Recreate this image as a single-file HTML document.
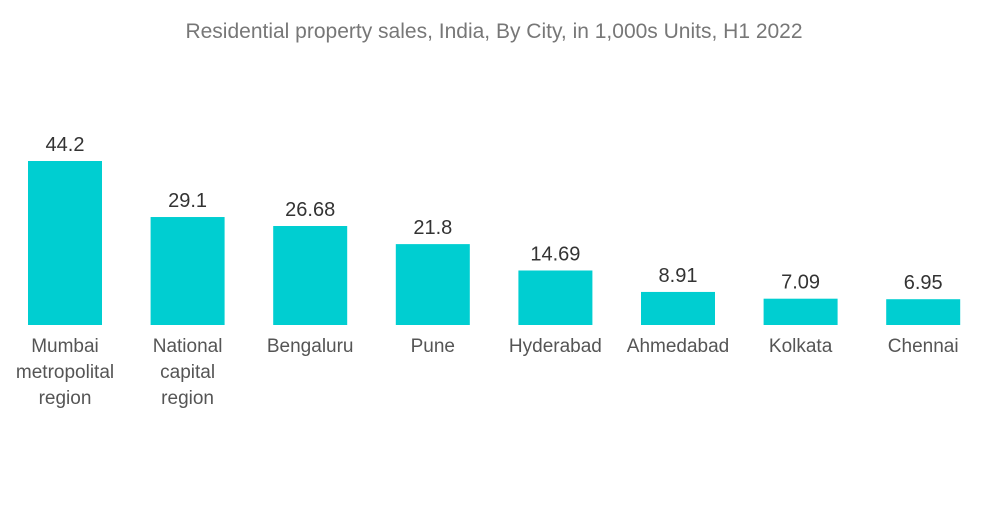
<!DOCTYPE html>
<html><head><meta charset="utf-8"><style>
body{margin:0;background:#fff;width:1000px;height:504px;overflow:hidden;font-family:"Liberation Sans",sans-serif;}
</style></head><body>
<svg id="chart" width="1000" height="504">
<text x="494" y="38" text-anchor="middle" font-size="21" fill="#777">Residential property sales, India, By City, in 1,000s Units, H1 2022</text>
<g id="bars"></g>
</svg>
<script>
const categories=[["Mumbai","metropolital","region"],["National","capital","region"],["Bengaluru"],["Pune"],["Hyderabad"],["Ahmedabad"],["Kolkata"],["Chennai"]];
const values=[44.2,29.1,26.68,21.8,14.69,8.91,7.09,6.95];
const valueLabels=["44.2","29.1","26.68","21.8","14.69","8.91","7.09","6.95"];
const ns="http://www.w3.org/2000/svg";
const g=document.getElementById('bars');
const baseY=325, pxPerUnit=164/44.2, x0=65, step=122.6, bw=74;
function xScale(i){return x0+i*step;}
function yScale(v){return baseY-v*pxPerUnit;}
values.forEach((v,i)=>{
 const cx=xScale(i), y=yScale(v);
 const r=document.createElementNS(ns,'rect');
 r.setAttribute('x',cx-bw/2);r.setAttribute('y',y);r.setAttribute('width',bw);r.setAttribute('height',baseY-y);r.setAttribute('fill','#00ced1');
 
 
 g.appendChild(r);
 const t=document.createElementNS(ns,'text');
 t.setAttribute('x',cx);t.setAttribute('y',y-10);t.setAttribute('text-anchor','middle');t.setAttribute('font-size','20');t.setAttribute('fill','#333');
 t.textContent=valueLabels[i];
 
 
 g.appendChild(t);
 categories[i].forEach((line,j)=>{
  const c=document.createElementNS(ns,'text');
  c.setAttribute('x',cx);c.setAttribute('y',352+j*26);c.setAttribute('text-anchor','middle');c.setAttribute('font-size','19');c.setAttribute('fill','#555');
  c.textContent=line;
  
  
  g.appendChild(c);
 });
});
</script>
</body></html>
